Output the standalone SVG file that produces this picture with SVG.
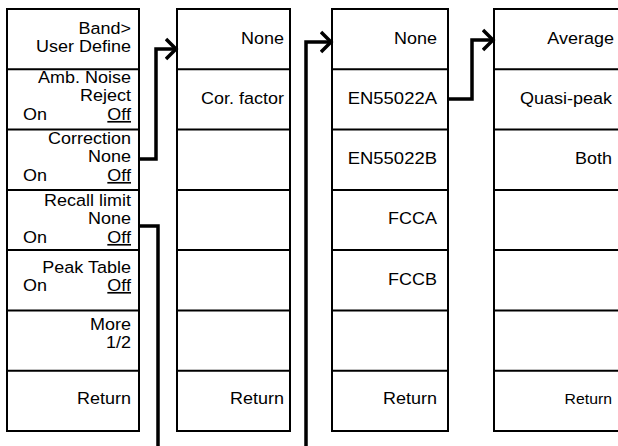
<svg xmlns="http://www.w3.org/2000/svg" width="618" height="446" viewBox="0 0 618 446">
<style>
.box{fill:#fff;stroke:#000;stroke-width:2}
.div{stroke:#000;stroke-width:2}
.t{font-family:"Liberation Sans",Arial,sans-serif;font-size:16.5px;fill:#000;text-anchor:end}
.s{font-family:"Liberation Sans",Arial,sans-serif;font-size:16.5px;fill:#000;text-anchor:start}
.u{text-decoration:underline}
.c{fill:none;stroke:#000;stroke-width:3.5}
</style>
<defs>
<marker id="arr" markerWidth="14" markerHeight="24" refX="11" refY="12" orient="auto" markerUnits="userSpaceOnUse">
<path d="M1,2 L11,12 L1,22" fill="none" stroke="#000" stroke-width="3.5"/>
</marker>
</defs>
<rect width="618" height="446" fill="#fff"/>
<g id="menu1">
<rect class="box" x="7" y="9" width="132" height="422"/>
<path class="div" d="M7,69.3H139M7,129.6H139M7,189.9H139M7,250.1H139M7,310.4H139M7,370.7H139"/>
<text class="t" transform="translate(131,34) scale(1.09,1)">Band&gt;</text>
<text class="t" transform="translate(131,52) scale(1.09,1)">User Define</text>
<text class="t" transform="translate(131,83) scale(1.09,1)">Amb. Noise</text>
<text class="t" transform="translate(131,101) scale(1.09,1)">Reject</text>
<text class="s" transform="translate(23,120) scale(1.09,1)">On</text>
<text class="t u" transform="translate(131,120) scale(1.09,1)">Off</text>
<text class="t" transform="translate(131,144) scale(1.09,1)">Correction</text>
<text class="t" transform="translate(131,162) scale(1.09,1)">None</text>
<text class="s" transform="translate(23,181) scale(1.09,1)">On</text>
<text class="t u" transform="translate(131,181) scale(1.09,1)">Off</text>
<text class="t" transform="translate(131,206) scale(1.09,1)">Recall limit</text>
<text class="t" transform="translate(131,224) scale(1.09,1)">None</text>
<text class="s" transform="translate(23,243) scale(1.09,1)">On</text>
<text class="t u" transform="translate(131,243) scale(1.09,1)">Off</text>
<text class="t" transform="translate(131,273) scale(1.09,1)">Peak Table</text>
<text class="s" transform="translate(23,291) scale(1.09,1)">On</text>
<text class="t u" transform="translate(131,291) scale(1.09,1)">Off</text>
<text class="t" transform="translate(131,330) scale(1.09,1)">More</text>
<text class="t" transform="translate(131,348) scale(1.09,1)">1/2</text>
<text class="t" transform="translate(131,404) scale(1.09,1)">Return</text>
</g>
<g id="menu2">
<rect class="box" x="177" y="9" width="113" height="422"/>
<path class="div" d="M177,69.3H290M177,129.6H290M177,189.9H290M177,250.1H290M177,310.4H290M177,370.7H290"/>
<text class="t" transform="translate(284,44) scale(1.09,1)">None</text>
<text class="t" transform="translate(284,104) scale(1.09,1)">Cor. factor</text>
<text class="t" transform="translate(284,404) scale(1.09,1)">Return</text>
</g>
<g id="menu3">
<rect class="box" x="332" y="9" width="116" height="422"/>
<path class="div" d="M332,69.3H448M332,129.6H448M332,189.9H448M332,250.1H448M332,310.4H448M332,370.7H448"/>
<text class="t" transform="translate(437,44) scale(1.09,1)">None</text>
<text class="t" transform="translate(437,104) scale(1.12,1)">EN55022A</text>
<text class="t" transform="translate(437,164) scale(1.12,1)">EN55022B</text>
<text class="t" transform="translate(437,224) scale(1.09,1)">FCCA</text>
<text class="t" transform="translate(437,285) scale(1.09,1)">FCCB</text>
<text class="t" transform="translate(437,404) scale(1.09,1)">Return</text>
</g>
<g id="menu4">
<rect class="box" x="494" y="9" width="134" height="422"/>
<path class="div" d="M494,69.3H628M494,129.6H628M494,189.9H628M494,250.1H628M494,310.4H628M494,370.7H628"/>
<text class="t" transform="translate(614,44) scale(1.09,1)">Average</text>
<text class="t" transform="translate(612,104) scale(1.09,1)">Quasi-peak</text>
<text class="t" transform="translate(612,164) scale(1.09,1)">Both</text>
<text class="t" transform="translate(612,404) scale(1.09,1)" style="font-size:14.5px">Return</text>
</g>
<g id="connectors">
<path class="c" d="M139,159H156V49H176" marker-end="url(#arr)"/>
<path class="c" d="M139,226H158V446"/>
<path class="c" d="M306,446V42H331" marker-end="url(#arr)"/>
<path class="c" d="M448,99H472V40H493" marker-end="url(#arr)"/>
</g>
</svg>
